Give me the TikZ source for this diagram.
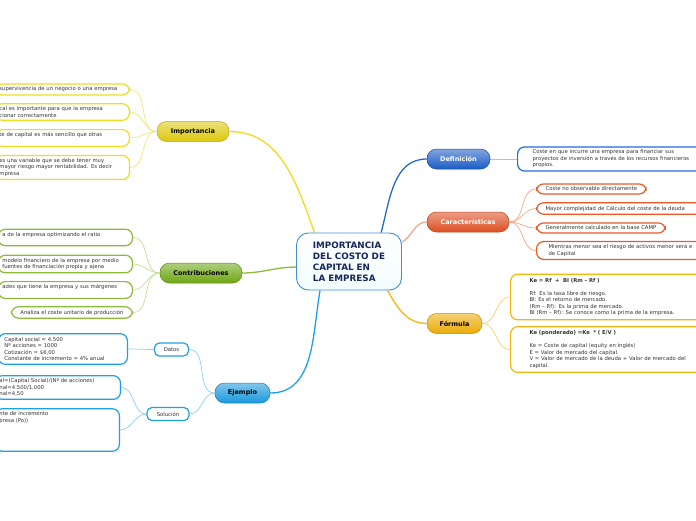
\documentclass[tikz,border=0pt]{standalone}
\usepackage{fontspec}
\setmainfont{DejaVu Sans}
\usetikzlibrary{backgrounds}

\definecolor{impY}{HTML}{DCC80C}
\definecolor{impL}{HTML}{F0DC1E}
\definecolor{impC}{HTML}{F2E47E}
\definecolor{conG}{HTML}{6EA614}
\definecolor{conL}{HTML}{8CBB3A}
\definecolor{conC}{HTML}{C3DF8E}
\definecolor{ejB}{HTML}{1A98DC}
\definecolor{ejL}{HTML}{1EA0E6}
\definecolor{ejC}{HTML}{8CCFF2}
\definecolor{defB}{HTML}{1C5CC4}
\definecolor{defL}{HTML}{1F6FDB}
\definecolor{defC}{HTML}{2468D4}
\definecolor{defD}{HTML}{A4C4EE}
\definecolor{carO}{HTML}{DC4E22}
\definecolor{carL}{HTML}{E85A2C}
\definecolor{carC}{HTML}{F4A68C}
\definecolor{forY}{HTML}{EBAA06}
\definecolor{forL}{HTML}{F5B60F}
\definecolor{forC}{HTML}{F8CF6E}
\definecolor{cenB}{HTML}{3D8FD6}
\definecolor{cenT}{HTML}{14265C}
\definecolor{txt}{HTML}{333333}

\tikzset{
  leaf/.style={draw=#1, line width=1.2pt, fill=white, rounded corners=7pt,
    align=left, inner xsep=6pt, inner ysep=3pt, text=txt,
    font=\fontsize{5.3}{6.5}\selectfont},
  pill/.style={draw=#1!85!black, line width=0.5pt, rounded corners=9.5pt,
    top color=#1!55!white, bottom color=#1, minimum height=20pt,
    inner xsep=4pt, font=\bfseries\fontsize{6.5}{8}\selectfont},
  tag/.style={draw=#1, line width=1.2pt, fill=white, rounded corners=5pt,
    minimum height=13pt, inner xsep=3pt, text=txt,
    font=\fontsize{5.3}{6.5}\selectfont},
  twig/.style={draw=#1, line width=0.7pt},
  limb/.style={draw=#1, line width=1.3pt},
}

\begin{document}
\begin{tikzpicture}[x=1pt, y=-1pt]
\useasboundingbox (0,0) rectangle (696,520);

% centre
\node[draw=cenB, line width=0.9pt, rounded corners=12pt, top color=white,
  bottom color=black!18!cyan!5!white, minimum width=105pt, minimum height=57pt,
  align=left, text=cenT, font=\bfseries\fontsize{8.8}{11}\selectfont]
  (cen) at (349,261.5) {IMPORTANCIA\\DEL COSTO DE\\CAPITAL EN\\LA EMPRESA};

% Importancia
\node[pill=impY, minimum width=72pt] (imp) at (193,131.5) {Importancia};
\node[leaf=impL, text width=126pt, inner xsep=4pt, anchor=east] (i1) at (130,89.5)
  {supervivencia de un negocio o una empresa};
\node[leaf=impL, text width=126pt, inner xsep=4pt, anchor=east] (i2) at (130,112)
  {cal es importante para que la empresa\\cionar correctamente};
\node[leaf=impL, text width=126pt, inner xsep=4pt, anchor=east] (i3) at (130,138)
  {te de capital es más sencillo que otras\\\mbox{}};
\node[leaf=impL, text width=126pt, inner xsep=4pt, anchor=east] (i4) at (130,167.5)
  {es una variable que se debe tener muy\\mayor riesgo mayor rentabilidad. Es decir\\mpresa};

% Contribuciones
\node[pill=conG, minimum width=82pt] (con) at (201,273) {Contribuciones};
\node[leaf=conL, text width=126pt, inner xsep=4pt, anchor=east] (c1) at (133,237.5)
  {a de la empresa optimizando el ratio\\\mbox{}};
\node[leaf=conL, text width=126pt, inner xsep=4pt, anchor=east] (c2) at (133,264)
  {modelo financiero de la empresa por medio\\fuentes de financiación propia y ajena};
\node[leaf=conL, text width=126pt, inner xsep=4pt, anchor=east] (c3) at (133,290)
  {ades que tiene la empresa y sus márgenes\\\mbox{}};
\node[leaf=conL, inner xsep=9pt, anchor=east] (c4) at (133,312.5)
  {Analiza el coste unitario de producción};

% Ejemplo
\node[pill=ejB, minimum width=55pt] (ej) at (242.5,393) {Ejemplo};
\node[tag=ejL, minimum width=34pt] (dat) at (171.5,349.5) {Datos};
\node[tag=ejL, minimum width=42pt] (sol) at (168,414) {Solución};
\node[leaf=ejL, text width=117pt, anchor=east, inner ysep=3.5pt] (d1) at (128,349)
  {Capital social = 4.500\\Nº acciones = 1000\\Cotización = \$6,00\\Constante de incremento = 4\% anual};
\node[leaf=ejL, text width=117pt, inner xsep=4pt, anchor=east] (s1) at (121,387.5)
  {al=(Capital Social)/(Nº de acciones)\\nal=4.500/1.000\\nal=4,50};
\node[leaf=ejL, text width=116pt, inner xsep=4pt, anchor=east] (s2) at (120,430)
  {nte de incremento\\presa (Po))\\\mbox{}\\\mbox{}\\\mbox{}\\\mbox{}};

% Definición
\node[pill=defB, text=white, minimum width=63pt] (def) at (458.5,159) {Definición};
\node[leaf=defL, inner xsep=15pt, text width=200pt, anchor=west] (e1) at (517,159)
  {Coste en que incurre una empresa para financiar sus\\proyectos de inversión a través de los recursos financieros\\propios.};

% Características
\node[pill=carO, text=white, minimum width=82pt] (car) at (468,222) {Características};
\node[leaf=carL, inner xsep=9pt, anchor=west] (k1) at (536,189)
  {Coste no observable directamente};
\node[leaf=carL, inner xsep=9pt, text width=170pt, anchor=west] (k2) at (536,208.5)
  {Mayor complejidad de Cálculo del coste de la deuda};
\node[leaf=carL, inner xsep=9pt, anchor=west] (k3) at (536,228)
  {Generalmente calculado en la base CAMP};
\node[leaf=carL, inner xsep=12pt, text width=170pt, anchor=west] (k4) at (536,250.5)
  {Mientras menor sea el riesgo de activos menor será e\\de Capital};

% Fórmula
\node[pill=forY, minimum width=55pt] (for) at (454.5,323.5) {Fórmula};
\node[leaf=forL, inner xsep=19pt, inner ysep=4pt, text width=180pt, anchor=west] (f1) at (510,297)
  {\textbf{Ke = Rf \ + \ BI (Rm – Rf )}\\\mbox{}\\Rf: Es la tasa libre de riesgo.\\BI: Es el retorno de mercado.\\(Rm – Rf): Es la prima de mercado.\\BI (Rm – Rf): Se conoce como la prima de la empresa.};
\node[leaf=forL, inner xsep=19pt, inner ysep=4pt, text width=180pt, anchor=west] (f2) at (510,349.5)
  {\textbf{Ke (ponderado) =Ke \ * ( E/V )}\\\mbox{}\\Ke = Coste de capital (equity en inglés)\\E = Valor de mercado del capital.\\V = Valor de mercado de la deuda + Valor de mercado del\\capital.};

% connectors
\begin{scope}[on background layer]
\draw[limb=impL] (cen.140) to[out=110,in=0] (imp.east);
\draw[limb=conL] (cen.186) to[out=180,in=0] (con.east);
\draw[limb=ejL] (cen.-135) to[out=-100,in=0] (ej.east);
\draw[limb=defC] (cen.42) to[out=75,in=180] (def.west);
\draw[limb=carC] (cen.20) to[out=30,in=180] (car.west);
\draw[limb=forL] (cen.-37) to[out=-60,in=180] (for.west);
\foreach \n in {i1,i2,i3,i4}
  \draw[twig=impC] (imp.west) to[out=180,in=0] (\n.east);
\foreach \n in {c1,c2,c3,c4}
  \draw[twig=conC] (con.west) to[out=180,in=0] (\n.east);
\draw[twig=ejC] (ej.west) to[out=180,in=0] (dat.east);
\draw[twig=ejC] (ej.west) to[out=180,in=0] (sol.east);
\draw[twig=ejC] (dat.west) to[out=180,in=0] (d1.east);
\draw[twig=ejC] (sol.west) to[out=180,in=0] (s1.east);
\draw[twig=ejC] (sol.west) to[out=180,in=0] (s2.east);
\draw[twig=defD, line width=1pt] (def.east) -- (e1.west);
\foreach \n in {k1,k2,k3,k4}
  \draw[twig=carC] (car.east) to[out=0,in=180] (\n.west);
\foreach \n in {f1,f2}
  \draw[twig=forC] (for.east) to[out=0,in=180] (\n.west);
\end{scope}
\end{tikzpicture}
\end{document}
